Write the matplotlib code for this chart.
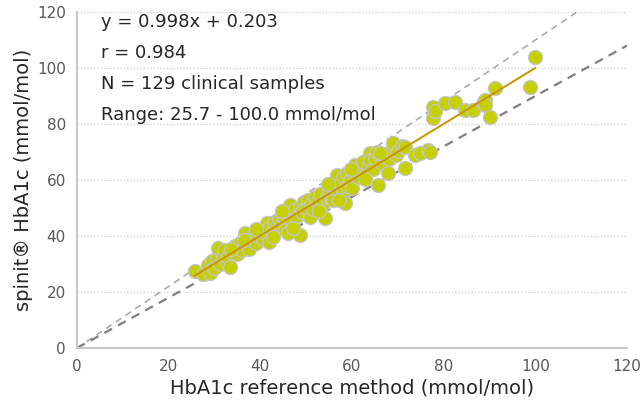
import matplotlib
matplotlib.use('Agg')
import matplotlib.pyplot as plt
import numpy as np

plt.rcParams['font.family'] = ['DejaVu Sans']

# reference method (x) vs spinit (y)
ref_x = [25.7, 27.5, 28.5, 29.0, 29.5, 30.0, 30.5, 30.8, 31.2, 31.8,
         32.0, 32.7, 33.0, 33.4, 34.0, 34.5, 35.0, 35.5, 36.0, 36.7,
         37.0, 37.5, 38.0, 38.8, 39.0, 39.5, 40.0, 40.5, 41.0, 41.4,
         41.8, 42.0, 42.5, 43.0, 43.5, 44.0, 44.5, 45.0, 45.4, 46.0,
         46.0, 46.5, 47.0, 47.5, 48.0, 48.7, 48.7, 49.0, 49.5, 50.0,
         50.5, 50.8, 51.0, 51.5, 52.0, 52.5, 53.0, 53.5, 54.1, 54.5,
         55.0, 55.5, 55.9, 56.0, 56.7, 57.0, 57.5, 58.0, 58.0, 58.5,
         58.9, 59.0, 59.5, 60.0, 60.5, 60.7, 61.0, 61.3, 62.0, 62.4,
         63.0, 63.5, 63.9, 64.0, 64.5, 65.0, 65.4, 65.7, 66.5, 67.0,
         67.9, 68.0, 68.5, 69.0, 69.5, 70.0, 71.0, 71.6, 71.6, 73.8,
         74.8, 76.6, 77.0, 77.7, 77.7, 78.0, 80.3, 82.5, 84.7, 86.4,
         88.5, 89.0, 89.0, 90.1, 91.2, 98.8, 100.0,
         33.5, 36.5, 39.0, 42.8, 44.8, 47.2, 52.8, 54.8, 57.2, 59.8,
         62.8, 66.0]
spinit_y = [27.6, 26.5, 29.5, 26.8, 31.0, 28.5, 32.0, 35.6, 30.0, 33.0,
            35.0, 30.8, 32.5, 29.0, 34.0, 36.5, 33.5, 37.5, 35.0, 41.0,
            37.0, 35.5, 39.0, 41.4, 37.5, 40.0, 42.0, 39.0, 41.0, 44.6,
            37.8, 43.0, 41.5, 45.0, 43.0, 46.0, 44.0, 47.0, 42.1, 41.0,
            48.0, 51.0, 45.5, 49.5, 47.0, 40.4, 50.5, 48.5, 52.0, 50.0,
            53.0, 46.9, 51.5, 49.5, 54.0, 52.0, 55.0, 51.0, 46.5, 54.0,
            56.5, 53.5, 52.9, 58.0, 61.8, 56.0, 59.0, 55.7, 61.0, 51.8,
            62.5, 58.0, 60.0, 57.0, 62.0, 65.4, 62.9, 61.0, 64.0, 66.4,
            62.0, 65.5, 69.6, 67.0, 64.0, 68.0, 70.1, 58.2, 66.0, 68.5,
            62.5, 67.5, 70.5, 73.2, 69.0, 70.5, 72.0, 71.9, 64.3, 68.9,
            69.6, 70.7, 70.1, 86.2, 82.1, 84.5, 87.5, 88.0, 85.0, 85.0,
            87.5, 88.6, 86.8, 82.6, 92.9, 93.3, 104.0,
            35.5, 38.5, 42.5, 39.5, 49.0, 43.0, 49.0, 58.5, 53.0, 64.0,
            60.5, 69.5]

slope, intercept = 0.998, 0.203
fit_range = [25.7, 100.0]
band_upper, band_lower = 1.1, 0.9
stats_lines = ["y = 0.998x + 0.203",
               "r = 0.984",
               "N = 129 clinical samples",
               "Range: 25.7 - 100.0 mmol/mol"]

fig = plt.figure(figsize=(6.4, 4.04), dpi=100)
ax = fig.add_axes([0.1203, 0.1386, 0.8594, 0.8317])

for y in range(20, 121, 20):
    ax.axhline(y, color='#cccccc', linestyle=':', linewidth=0.9, zorder=0)

lim = np.array([0, 120])
ax.plot(lim, band_upper * lim, color='#ababab', linestyle='--',
        linewidth=1.2, dashes=(4, 3), zorder=1)
ax.plot(lim, band_lower * lim, color='#7f7f7f', linestyle='--',
        linewidth=1.6, dashes=(4, 3), zorder=1)

ax.scatter(ref_x, spinit_y, s=100, c='#c4d000', edgecolors='#c4c4c4',
           linewidths=1.0, zorder=3)

fx = np.array(fit_range)
ax.plot(fx, slope * fx + intercept, color='#c99400', linewidth=1.4, zorder=4)

ax.set_xlim(0, 120)
ax.set_ylim(0, 120)
ax.set_xticks(range(0, 121, 20))
ax.set_yticks(range(0, 121, 20))
ax.tick_params(length=0, labelsize=11, labelcolor='#595959', pad=8)
for s in ['top', 'right']:
    ax.spines[s].set_visible(False)
for s in ['left', 'bottom']:
    ax.spines[s].set_color('#c8c8c8')
    ax.spines[s].set_linewidth(1.5)

ax.set_xlabel('HbA1c reference method (mmol/mol)', fontsize=14,
              color='#262626', labelpad=3)
ax.set_ylabel('spinit® HbA1c (mmol/mol)', fontsize=14,
              color='#262626', labelpad=3)

for i, line in enumerate(stats_lines):
    fig.text(101 / 640, 1 - (22 + 31 * i) / 404, line, fontsize=13,
             color='#262626', va='center', ha='left')

plt.savefig('out.png', dpi=100)
